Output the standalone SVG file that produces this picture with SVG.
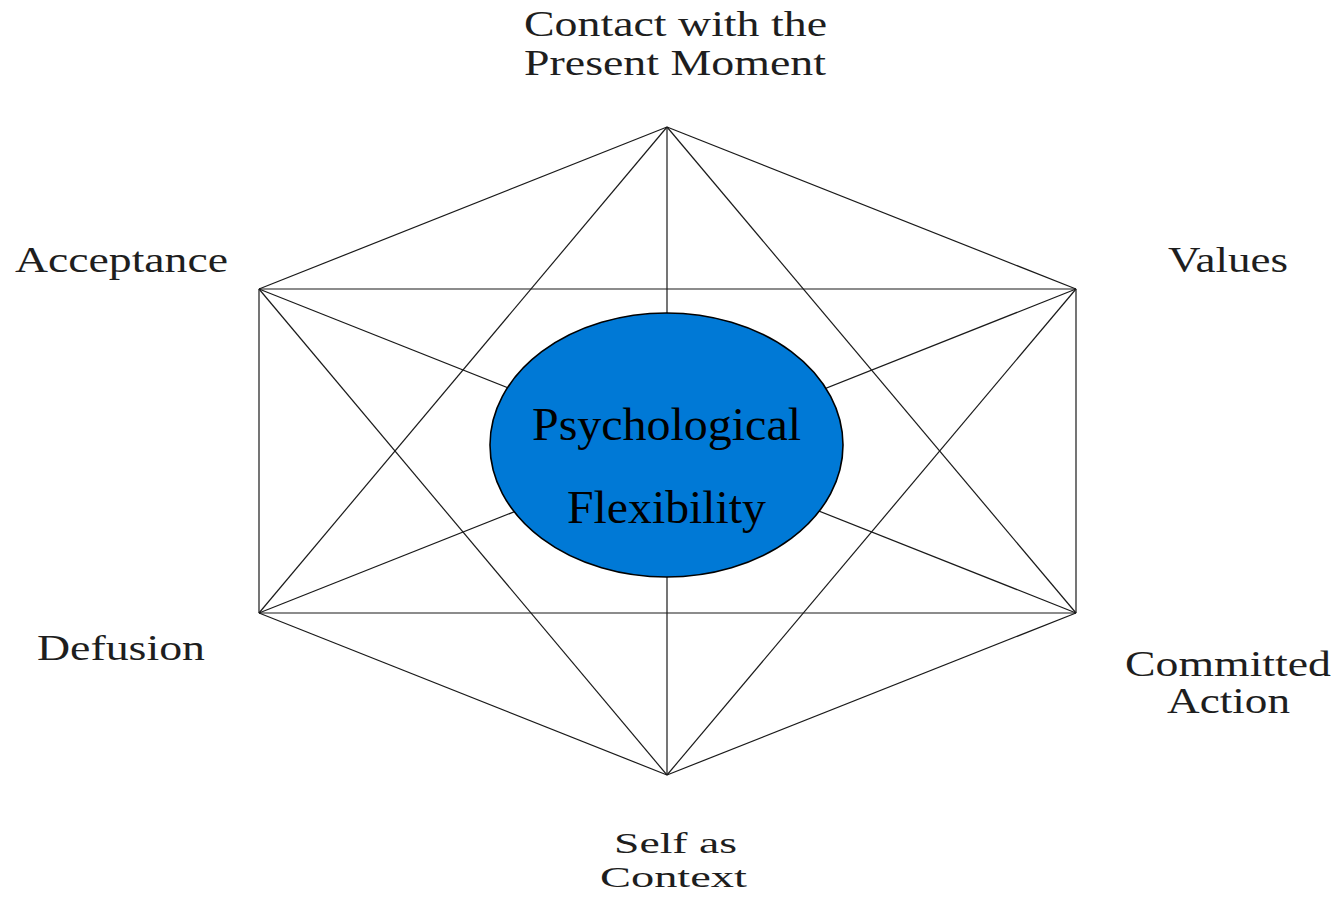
<svg xmlns="http://www.w3.org/2000/svg" width="1339" height="903" viewBox="0 0 1339 903">
<style>
.edge{stroke:#1a1a1a;stroke-width:1.2;fill:none}
.lbl{font-family:"Liberation Serif","Times New Roman",serif;font-size:35px;fill:#1e1e1e}
.sm{font-size:29px}
.ctr{font-family:"Liberation Serif","Times New Roman",serif;fill:#000}
</style>
<rect width="1339" height="903" fill="#fff"/>
<g id="connectors">
<line class="edge" x1="667" y1="127" x2="259" y2="289"/>
<line class="edge" x1="667" y1="127" x2="1076" y2="289"/>
<line class="edge" x1="667" y1="127" x2="259" y2="613"/>
<line class="edge" x1="667" y1="127" x2="1076" y2="613"/>
<line class="edge" x1="667" y1="127" x2="667" y2="775"/>
<line class="edge" x1="259" y1="289" x2="1076" y2="289"/>
<line class="edge" x1="259" y1="289" x2="259" y2="613"/>
<line class="edge" x1="259" y1="289" x2="1076" y2="613"/>
<line class="edge" x1="259" y1="289" x2="667" y2="775"/>
<line class="edge" x1="1076" y1="289" x2="1076" y2="613"/>
<line class="edge" x1="1076" y1="289" x2="259" y2="613"/>
<line class="edge" x1="1076" y1="289" x2="667" y2="775"/>
<line class="edge" x1="259" y1="613" x2="1076" y2="613"/>
<line class="edge" x1="259" y1="613" x2="667" y2="775"/>
<line class="edge" x1="1076" y1="613" x2="667" y2="775"/>
</g>
<g id="center">
<ellipse cx="666.5" cy="445" rx="176.5" ry="132" fill="#0079d6" stroke="#000" stroke-width="1.6"/>
<text class="ctr" x="532" y="440" font-size="47" textLength="269" lengthAdjust="spacingAndGlyphs">Psychological</text>
<text class="ctr" x="567" y="523" font-size="47" textLength="199" lengthAdjust="spacingAndGlyphs">Flexibility</text>
</g>
<g id="contact">
<text class="lbl" x="524" y="36" textLength="303" lengthAdjust="spacingAndGlyphs">Contact with the</text>
<text class="lbl" x="524" y="75" textLength="302" lengthAdjust="spacingAndGlyphs">Present Moment</text>
</g>
<g id="acceptance">
<text class="lbl" x="15" y="272" textLength="213" lengthAdjust="spacingAndGlyphs">Acceptance</text>
</g>
<g id="values">
<text class="lbl" x="1168" y="272" textLength="120" lengthAdjust="spacingAndGlyphs">Values</text>
</g>
<g id="defusion">
<text class="lbl" x="37" y="660" textLength="168" lengthAdjust="spacingAndGlyphs">Defusion</text>
</g>
<g id="committed">
<text class="lbl" x="1125" y="676" textLength="206" lengthAdjust="spacingAndGlyphs">Committed</text>
<text class="lbl" x="1167" y="713" textLength="123" lengthAdjust="spacingAndGlyphs">Action</text>
</g>
<g id="self">
<text class="lbl sm" x="614" y="853" textLength="123" lengthAdjust="spacingAndGlyphs">Self as</text>
<text class="lbl sm" x="600" y="887" textLength="147" lengthAdjust="spacingAndGlyphs">Context</text>
</g>
</svg>
